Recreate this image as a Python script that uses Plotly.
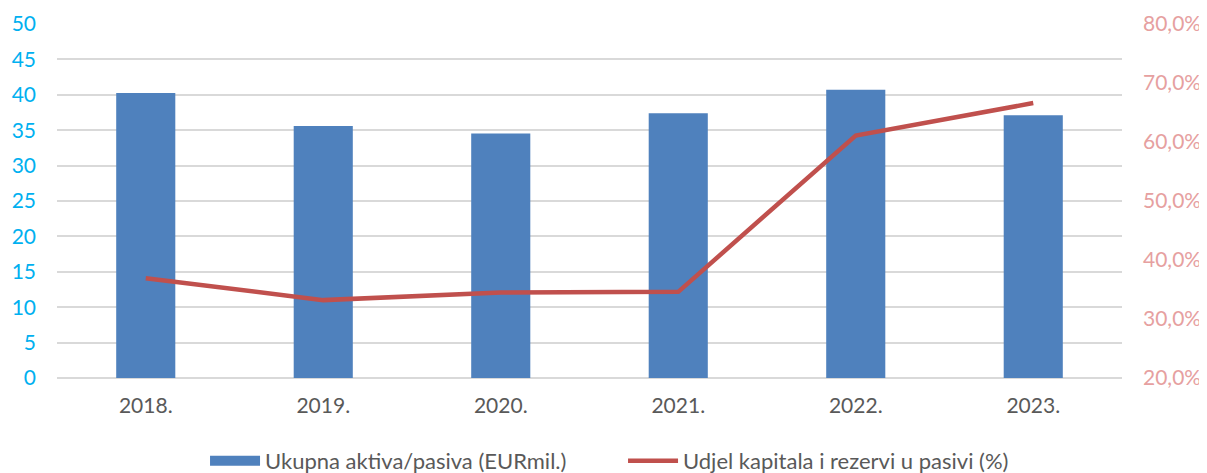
import plotly.graph_objects as go

years = ["2018.", "2019.", "2020.", "2021.", "2022.", "2023."]
assets = [40.25, 35.6, 34.55, 37.4, 40.7, 37.1]
equity_share = [36.9, 33.2, 34.5, 34.6, 61.1, 66.6]

bar_name = "Ukupna aktiva/pasiva (EURmil.)"
line_name = "Udjel kapitala i rezervi u pasivi (%)"
bar_color = "#4F81BD"

fig = go.Figure()
fig.add_trace(go.Bar(x=years, y=assets, name=bar_name, marker_color=bar_color,
                     marker_line_width=0, yaxis="y", showlegend=False, legendgroup="a"))
# legend-only entry drawn as a wide swatch, like the original
fig.add_trace(go.Scatter(x=[None], y=[None], name=bar_name, mode="lines",
                         line=dict(color=bar_color, width=13), legendgroup="a"))
fig.add_trace(go.Scatter(x=years, y=equity_share, name=line_name, mode="lines",
                         line=dict(color="#C0504D", width=4.5), yaxis="y2"))

font = "Lato, Open Sans, sans-serif"
fig.update_layout(
    width=1199, height=465,
    margin=dict(l=49, r=85, t=16, b=95),
    paper_bgcolor="white", plot_bgcolor="white",
    bargap=0.667,
    font=dict(family=font, size=21, color="#404040"),
    xaxis=dict(showgrid=False, showline=False, ticks="", automargin=False,
               tickfont=dict(size=21, color="#595959"), ticklabelstandoff=13),
    yaxis=dict(range=[0, 50], dtick=5, showgrid=True, gridcolor="#D9D9D9", gridwidth=1.5,
               zeroline=True, zerolinecolor="#D9D9D9", zerolinewidth=1.5, automargin=False,
               tickfont=dict(size=21, color="#00B0F0"), ticklabelstandoff=20),
    yaxis2=dict(range=[20, 80], dtick=10, overlaying="y", side="right", showgrid=False,
                zeroline=False, ticksuffix=",0%", automargin=False,
                tickfont=dict(size=21, color="#E6A0A0"), ticklabelstandoff=20),
    legend=dict(orientation="h", x=0.139, xanchor="left", xref="paper",
                y=0.026, yanchor="middle", yref="container",
                font=dict(size=22, color="#595959"), itemwidth=50, traceorder="normal",
                entrywidth=353),
    showlegend=True,
)
fig.write_html("out.html")
